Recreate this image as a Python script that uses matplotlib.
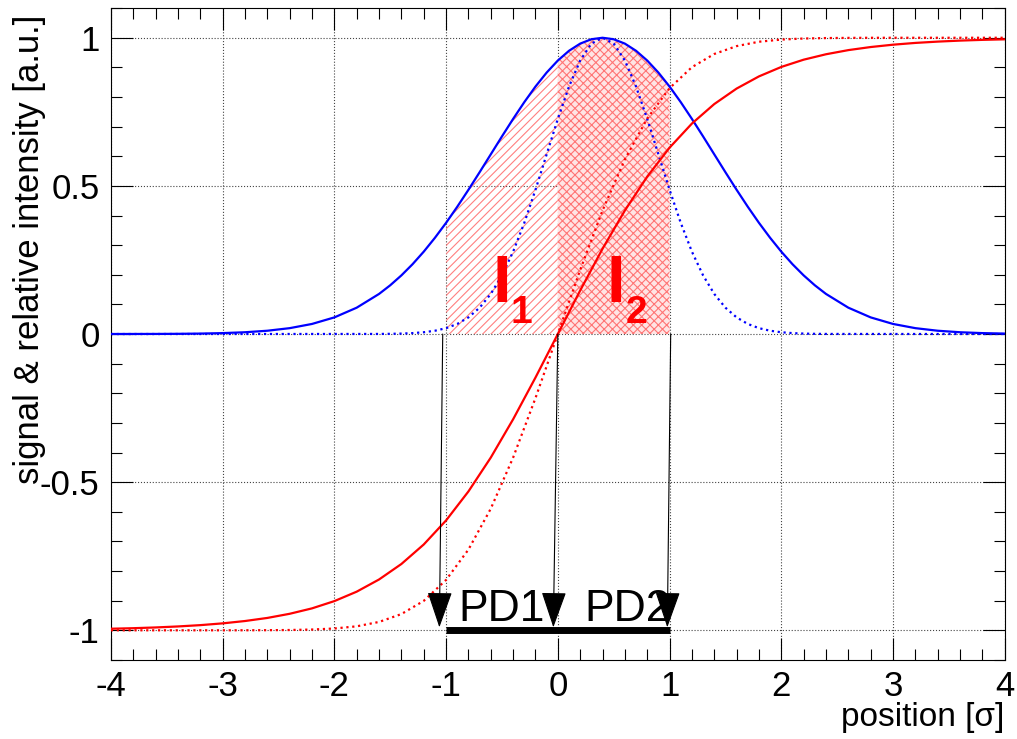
import numpy as np
import matplotlib
matplotlib.use("Agg")
import matplotlib.pyplot as plt
from matplotlib.ticker import MultipleLocator

plt.rcParams["font.family"] = ["Liberation Sans", "DejaVu Sans"]
plt.rcParams["axes.unicode_minus"] = False
plt.rcParams["hatch.linewidth"] = 0.8

# positions in units of sigma (signal curves)
x_pos = [-4.0, -3.8, -3.6, -3.4, -3.2, -3.0, -2.8, -2.6, -2.4, -2.2, -2.0,
         -1.8, -1.6, -1.4, -1.2, -1.0, -0.8, -0.6, -0.4, -0.2, 0.0,
         0.2, 0.4, 0.6, 0.8, 1.0, 1.2, 1.4, 1.6, 1.8, 2.0,
         2.2, 2.4, 2.6, 2.8, 3.0, 3.2, 3.4, 3.6, 3.8, 4.0]

# signal (I2-I1)/(I2+I1) for broad beam (red solid)
signal_wide = [-0.9947, -0.9929, -0.9904, -0.9870, -0.9826, -0.9766, -0.9687, -0.9583, -0.9443, -0.9260, -0.9015,
               -0.8696, -0.8285, -0.7762, -0.7104, -0.6291, -0.5313, -0.4170, -0.2877, -0.1469, 0.0,
               0.1469, 0.2877, 0.4170, 0.5313, 0.6291, 0.7104, 0.7762, 0.8285, 0.8696, 0.9015,
               0.9260, 0.9443, 0.9583, 0.9687, 0.9766, 0.9826, 0.9870, 0.9904, 0.9929, 0.9947]

# signal for narrow beam (red dotted)
signal_narrow = [-1.0, -1.0, -1.0, -1.0, -1.0, -1.0, -0.9999, -0.9996, -0.9990, -0.9974, -0.9939,
                 -0.9866, -0.9718, -0.9452, -0.9007, -0.8299, -0.7275, -0.5895, -0.4169, -0.2162, 0.0,
                 0.2162, 0.4169, 0.5895, 0.7275, 0.8299, 0.9007, 0.9452, 0.9718, 0.9866, 0.9939,
                 0.9974, 0.9990, 0.9996, 0.9999, 1.0, 1.0, 1.0, 1.0, 1.0, 1.0]

# broad beam profile (blue solid)
x_beam = [-4.0, -3.8, -3.6, -3.4, -3.2, -3.0, -2.8, -2.6, -2.4, -2.2, -2.0, -1.8,
          -1.6, -1.5, -1.4, -1.3, -1.2, -1.1, -1.0, -0.9, -0.8, -0.7,
          -0.6, -0.5, -0.4, -0.3, -0.2, -0.1, 0.0, 0.1, 0.2, 0.3,
          0.4, 0.5, 0.6, 0.7, 0.8, 0.9, 1.0, 1.1, 1.2, 1.3,
          1.4, 1.5, 1.6, 1.7, 1.8, 1.9, 2.0, 2.1, 2.2, 2.3, 2.4,
          2.6, 2.8, 3.0, 3.2, 3.4, 3.6, 3.8, 4.0]
beam_wide = [0.0001, 0.0002, 0.0003, 0.0007, 0.0015, 0.0031, 0.0060, 0.0111, 0.0198, 0.0340, 0.0561, 0.0889,
             0.1353, 0.1645, 0.1979, 0.2357, 0.2780, 0.3247, 0.3753, 0.4296, 0.4868, 0.5461,
             0.6065, 0.6670, 0.7261, 0.7827, 0.8353, 0.8825, 0.9231, 0.9560, 0.9802, 0.9950,
             1.0, 0.9950, 0.9802, 0.9560, 0.9231, 0.8825, 0.8353, 0.7827, 0.7261, 0.6670,
             0.6065, 0.5461, 0.4868, 0.4296, 0.3753, 0.3247, 0.2780, 0.2357, 0.1979, 0.1645, 0.1353,
             0.0889, 0.0561, 0.0340, 0.0198, 0.0111, 0.0060, 0.0031, 0.0015]

# narrow beam profile (blue dotted)
x_narrow = [-4.0, -1.6, -1.5, -1.4, -1.3, -1.2, -1.1, -1.0, -0.9, -0.8, -0.7,
            -0.6, -0.5, -0.4, -0.3, -0.2, -0.1, 0.0, 0.1, 0.2, 0.3,
            0.4, 0.5, 0.6, 0.7, 0.8, 0.9, 1.0, 1.1, 1.2, 1.3,
            1.4, 1.5, 1.6, 1.7, 1.8, 1.9, 2.0, 2.1, 2.2, 2.3, 2.4, 4.0]
beam_narrow = [0.0, 0.0003, 0.0007, 0.0015, 0.0031, 0.0060, 0.0111, 0.0198, 0.0340, 0.0561, 0.0889,
               0.1353, 0.1979, 0.2780, 0.3753, 0.4868, 0.6065, 0.7261, 0.8353, 0.9231, 0.9802,
               1.0, 0.9802, 0.9231, 0.8353, 0.7261, 0.6065, 0.4868, 0.3753, 0.2780, 0.1979,
               0.1353, 0.0889, 0.0561, 0.0340, 0.0198, 0.0111, 0.0060, 0.0031, 0.0015, 0.0007, 0.0003, 0.0]

# photodiode edges and arrows
pd_edges = [-1.0, 0.0, 1.0]
arrow_start_x = [-1.03, 0.0, 1.01]
arrow_tip_x = [-1.06, -0.04, 0.98]
arrow_tip_y = -0.99
pd_labels = ["PD1", "PD2"]
pd_label_x = [-0.89, 0.24]

x_ticks = [-4, -3, -2, -1, 0, 1, 2, 3, 4]
x_tick_labels = ["-4", "-3", "-2", "-1", "0", "1", "2", "3", "4"]
y_ticks = [-1, -0.5, 0, 0.5, 1]
y_tick_labels = ["-1", "-0.5", "0", "0.5", "1"]

xb = np.array(x_beam)
g = np.array(beam_wide)

fig = plt.figure(figsize=(10.17, 7.39), dpi=100)
ax = fig.add_axes([0.109, 0.107, 0.879, 0.882])

# I1 / I2 areas
sel1 = (xb >= pd_edges[0] - 1e-9) & (xb <= pd_edges[1] + 1e-9)
sel2 = (xb >= pd_edges[1] - 1e-9) & (xb <= pd_edges[2] + 1e-9)
ax.fill_between(xb[sel1], 0, g[sel1], facecolor="none", edgecolor="#ff8080",
                hatch="////", linewidth=0, zorder=1)
ax.fill_between(xb[sel2], 0, g[sel2], facecolor="#ffe4e4", edgecolor="#ff7575",
                hatch="xxxx", linewidth=0, zorder=1)

ax.plot(x_narrow, beam_narrow, color="blue", lw=1.6, ls=":", zorder=3)
ax.plot(xb, g, color="blue", lw=1.6, zorder=3)
ax.plot(x_pos, signal_narrow, color="red", lw=1.6, ls=":", zorder=4)
ax.plot(x_pos, signal_wide, color="red", lw=1.6, zorder=4)

# arrows from diode edges down to the detector bar
for xs, xt in zip(arrow_start_x, arrow_tip_x):
    ax.annotate("", xy=(xt, arrow_tip_y), xytext=(xs, 0),
                arrowprops=dict(arrowstyle="-|>,head_length=2.3,head_width=0.8",
                                mutation_scale=10, lw=0.8, color="black",
                                shrinkA=0, shrinkB=0), zorder=5)
ax.plot([pd_edges[0], pd_edges[2]], [-1, -1], color="black", lw=5,
        solid_capstyle="butt", zorder=5)
for lab, lx in zip(pd_labels, pd_label_x):
    ax.text(lx, -0.97, lab, fontsize=32, ha="left", va="baseline", zorder=6)

# I1, I2 labels
ax.text(-0.50, 0.109, "I", fontsize=48, fontweight="bold", color="red",
        ha="center", va="baseline", zorder=6)
ax.text(-0.33, 0.037, "1", fontsize=28, fontweight="bold", color="red",
        ha="center", va="baseline", zorder=6)
ax.text(0.52, 0.109, "I", fontsize=48, fontweight="bold", color="red",
        ha="center", va="baseline", zorder=6)
ax.text(0.70, 0.037, "2", fontsize=28, fontweight="bold", color="red",
        ha="center", va="baseline", zorder=6)

ax.set_xlim(-4, 4)
ax.set_ylim(-1.1, 1.1)
ax.set_xticks(x_ticks, labels=x_tick_labels)
ax.set_yticks(y_ticks, labels=y_tick_labels)
ax.xaxis.set_minor_locator(MultipleLocator(0.2))
ax.yaxis.set_minor_locator(MultipleLocator(0.1))
ax.tick_params(which="both", direction="in", top=True, right=True, labelsize=25)
ax.tick_params(which="major", length=16, width=0.8)
ax.tick_params(which="minor", length=8, width=0.8)
ax.tick_params(axis="x", pad=7)
ax.tick_params(axis="y", pad=8)
ax.grid(True, which="major", color="#444444", ls=":", lw=0.8)
ax.set_axisbelow(True)

ax.set_xlabel("position [σ]", fontsize=24, loc="right")
ax.xaxis.set_label_coords(1.0, -0.064)
ax.set_ylabel("signal & relative intensity [a.u.]", fontsize=25, loc="top")
ax.yaxis.set_label_coords(-0.072, 0.99)

fig.savefig("out.png", dpi=100)
